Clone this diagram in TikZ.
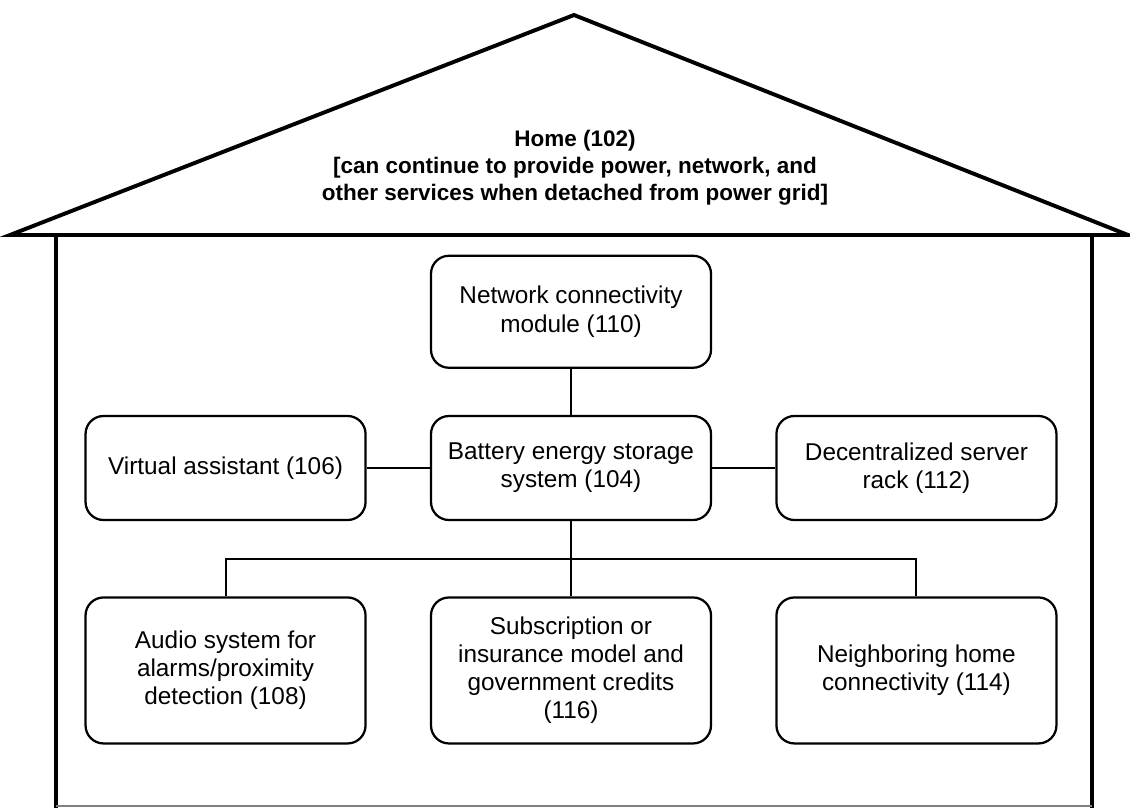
\documentclass[tikz,border=0pt]{standalone}
\usepackage{fontspec}
\setmainfont{Liberation Sans}
\usetikzlibrary{positioning,calc}

\begin{document}
\begin{tikzpicture}[node distance=1.58cm,
                    every node/.style={align=center, font=\fontsize{17.3}{20}\selectfont},
                    part/.style={draw, rectangle, rounded corners=0.45cm, line width=1.6pt,
                                 minimum width=7.0cm, inner sep=2pt},
                    link/.style={line width=1.4pt},
                    wall/.style={line width=2.8pt}]
  \useasboundingbox (0,0) rectangle (28.25,-20.2);

  % House outline
  \draw[wall, line join=miter] (0.25,-5.875) -- (14.35,-0.375) -- (28.2,-5.875) -- cycle;
  \draw[wall] (1.4,-5.875) -- (1.4,-20.2);
  \draw[wall] (27.3,-5.875) -- (27.3,-20.2);
  \draw[line width=0.8pt, black!50] (1.4,-20.15) -- (27.3,-20.15);

  \node[font=\fontsize{16}{19.2}\selectfont\bfseries] (home) at (14.375,-4.2)
    {Home (102)\\{}[can continue to provide power, network, and\\other services when detached from power grid]};

  % Define nodes
  \node[part, minimum height=2.6cm] (battery) at (14.275,-11.7)
    {Battery energy storage\\system (104)};

  \node[part, minimum height=2.8cm, above=1.15cm of battery] (network)
    {Network connectivity\\module (110)};

  \node[part, minimum height=2.6cm, left=of battery] (assistant)
    {Virtual assistant (106)};

  \node[part, minimum height=2.6cm, right=of battery] (server)
    {Decentralized server\\rack (112)};

  \node[part, minimum height=3.65cm, below=1.88cm of battery] (subscription)
    {Subscription or\\insurance model and\\government credits\\(116)};

  \node[part, minimum height=3.65cm, left=of subscription] (audio)
    {Audio system for\\alarms/proximity\\detection (108)};

  \node[part, minimum height=3.65cm, right=of subscription] (neighbor)
    {Neighboring home\\connectivity (114)};

  \coordinate (bus) at ($(battery.south)!0.5!(subscription.north)$);

  % Define paths
  \draw[link] (network) -- (battery);
  \draw[link] (assistant) -- (battery);
  \draw[link] (battery) -- (server);
  \draw[link] (battery) -- (subscription);
  \draw[link] (audio.north) |- (bus) -| (neighbor.north);

\end{tikzpicture}
\end{document}
